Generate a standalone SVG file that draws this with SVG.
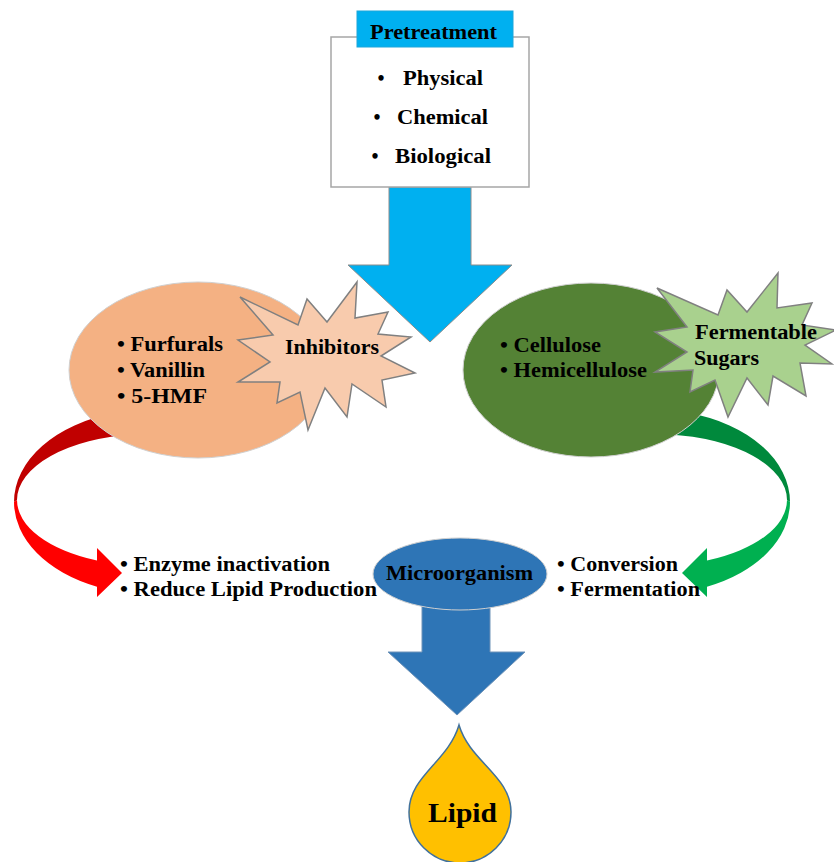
<svg xmlns="http://www.w3.org/2000/svg" width="834" height="862" viewBox="0 0 834 862">
<style>
text{font-family:"Liberation Serif","Times New Roman",serif;font-weight:bold;font-size:20px;fill:#000}
.star{stroke:#808080;stroke-width:1.5;stroke-linejoin:miter}
.ell{stroke:#D0D0D0;stroke-width:1}
.arr{stroke:#8C8C8C;stroke-width:1}
</style>
<rect width="834" height="862" fill="#fff"/>
<g id="connectors">
  <path class="arr" fill="#00B0F0" d="M389,187 L471,187 L471,265 L512,265 L430,342 L348,265 L389,265 Z"/>
  <g id="red-arrow">
    <path fill="#C00000" d="M14,502 A136,92 0 0 1 115,413.1 L135,434.4 A133,66 0 0 0 17,500 Z"/>
    <path fill="#FF0000" d="M14,502 A136,92 0 0 0 97,586.7 L97,597 L122,573 L97,548 L97,560.5 A133,66 0 0 1 17,500 Z"/>
  </g>
  <g id="green-arrow" transform="translate(804,0) scale(-1,1)">
    <path fill="#00893C" d="M14,502 A136,92 0 0 1 115,413.1 L135,434.4 A133,66 0 0 0 17,500 Z"/>
    <path fill="#00B050" d="M14,502 A136,92 0 0 0 97,586.7 L97,597 L122,573 L97,548 L97,560.5 A133,66 0 0 1 17,500 Z"/>
  </g>
  <path fill="#2E75B6" stroke="#6F93B8" stroke-width="1" d="M422,600 L490,600 L490,652 L525,652 L457,715 L388,652 L422,652 Z"/>
</g>
<g id="pretreatment">
  <rect x="331" y="37" width="198" height="150" fill="#fff" stroke="#A6A6A6" stroke-width="1.5"/>
  <rect x="357" y="11" width="156" height="36" fill="#00B0F0" stroke="#1DA6DA" stroke-width="1"/>
  <text x="370" y="39" textLength="127" lengthAdjust="spacingAndGlyphs">Pretreatment</text>
  <text x="381" y="85" text-anchor="middle">•</text>
  <text x="403" y="85" textLength="80" lengthAdjust="spacingAndGlyphs">Physical</text>
  <text x="377" y="124" text-anchor="middle">•</text>
  <text x="397" y="124" textLength="91" lengthAdjust="spacingAndGlyphs">Chemical</text>
  <text x="375" y="163" text-anchor="middle">•</text>
  <text x="395" y="163" textLength="96" lengthAdjust="spacingAndGlyphs">Biological</text>
</g>
<g id="inhibitor-compounds">
  <ellipse class="ell" cx="198" cy="370" rx="129" ry="88" fill="#F4B183"/>
  <text x="117" y="351" textLength="106" lengthAdjust="spacingAndGlyphs">• Furfurals</text>
  <text x="117" y="377" textLength="88" lengthAdjust="spacingAndGlyphs">• Vanillin</text>
  <text x="117" y="403" textLength="90" lengthAdjust="spacingAndGlyphs">• 5-HMF</text>
</g>
<g id="inhibitors">
  <polygon class="star" fill="#F8CBAD" points="240,297 298,325 307,299 327,322 357,282 355,318 388,312 378,334 411,337 381,356 415,373 382,380 386,407 352,384 347,417 325,388 308,430 300,392 277,403 280,382 238,382 270,362 238,340 273,335"/>
  <text x="285" y="354" textLength="94" lengthAdjust="spacingAndGlyphs">Inhibitors</text>
</g>
<g id="carbohydrates">
  <ellipse class="ell" cx="591" cy="370" rx="128" ry="87" fill="#548235"/>
  <text x="500" y="352" textLength="101" lengthAdjust="spacingAndGlyphs">• Cellulose</text>
  <text x="500" y="377" textLength="147" lengthAdjust="spacingAndGlyphs">• Hemicellulose</text>
</g>
<g id="fermentable-sugars">
  <polygon class="star" fill="#A9D18E" points="657,288 718,315 727,290 747,312 778,273 777,308 812,303 802,325 836,330 805,345 832,364 800,363 806,396 773,376 768,405 747,378 728,417 715,380 690,392 693,370 655,372 687,352 655,332 687,327"/>
  <text x="695" y="339" textLength="122" lengthAdjust="spacingAndGlyphs">Fermentable</text>
  <text x="694" y="365" textLength="65" lengthAdjust="spacingAndGlyphs">Sugars</text>
</g>
<g id="inhibitor-effects">
  <text x="120" y="571" textLength="210" lengthAdjust="spacingAndGlyphs">• Enzyme  inactivation</text>
  <text x="120" y="596" textLength="257" lengthAdjust="spacingAndGlyphs">• Reduce Lipid Production</text>
</g>
<g id="sugar-effects">
  <text x="557" y="571" textLength="121" lengthAdjust="spacingAndGlyphs">• Conversion</text>
  <text x="557" y="596" textLength="143" lengthAdjust="spacingAndGlyphs">• Fermentation</text>
</g>
<g id="microorganism">
  <ellipse class="ell" cx="460" cy="574" rx="87" ry="36" fill="#2E75B6"/>
  <text x="386" y="580" textLength="147" lengthAdjust="spacingAndGlyphs">Microorganism</text>
</g>
<g id="lipid">
  <path fill="#FFC000" stroke="#41719C" stroke-width="1.5" d="M459,725 C470,762 511,776 511,812 A51,51 0 0 1 409,812 C409,776 448,762 459,725 Z"/>
  <text x="428" y="822" font-size="28" style="font-size:28px" textLength="69" lengthAdjust="spacingAndGlyphs">Lipid</text>
</g>
</svg>
